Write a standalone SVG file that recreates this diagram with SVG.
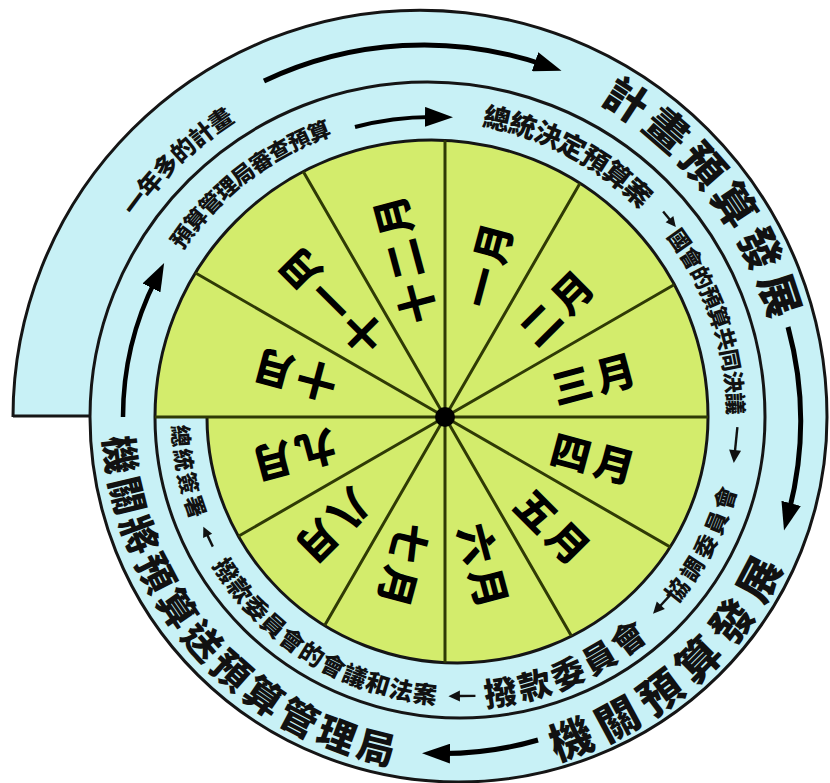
<svg xmlns="http://www.w3.org/2000/svg" width="830" height="783" viewBox="0 0 830 783">
<style>
.ln{fill:none;stroke:#151515;stroke-width:3}
.sec{fill:none;stroke:#2f3a05;stroke-width:3}
.arr{fill:none;stroke:#000;marker-end:url(#ah)}
.sh{fill:none;stroke:#111;stroke-width:2.4}
.hd{fill:#111}
.t{font-family:"Noto Sans CJK TC","Noto Sans CJK SC",sans-serif;font-weight:900;fill:#111;dominant-baseline:central;text-anchor:middle}
.m{font-family:"Noto Sans CJK TC","Noto Sans CJK SC",sans-serif;font-weight:900;fill:#000;font-size:40px;text-anchor:middle;dominant-baseline:central;letter-spacing:5px}
</style>
<defs>
<marker id="ah" markerUnits="userSpaceOnUse" viewBox="0 0 28 20" markerWidth="28" markerHeight="20" refX="10" refY="10" orient="auto"><path d="M0,0 L28,10 L0,20 Z" fill="#000"/></marker>
<g id="aL36"><path class="sh" d="M18,0 H-6"/><path class="hd" d="M-18,0 L-5,-6 L-5,6 Z"/></g>
<g id="aL27"><path class="sh" d="M13.5,0 H-3"/><path class="hd" d="M-13.5,0 L-2,-5.5 L-2,5.5 Z"/></g>
<g id="aL22"><path class="sh" d="M11,0 H-2"/><path class="hd" d="M-11,0 L-1,-5 L-1,5 Z"/></g>
<g id="aR20"><path class="sh" d="M-10,0 H2"/><path class="hd" d="M10,0 L0,-5 L0,5 Z"/></g>
<path id="T379" d="M-379,0 A379,379 0 0 1 379,0"/>
<path id="T362" d="M-362,0 A362,362 0 0 1 362,0"/>
<path id="T308" d="M-308,0 A308,308 0 0 1 308,0"/>
<path id="B338" d="M-338,0 A338,338 0 0 0 338,0"/>
<path id="B277" d="M-277,0 A277,277 0 0 0 277,0"/>
<clipPath id="gc"><path d="M155,417 A276.5,277 0 0 1 708,417 A250.5,246 0 0 1 207,417 Z"/></clipPath>
</defs>

<g id="spiral">
<path d="M13,417 A407,407 0 0 1 827,417 A368.5,365 0 0 1 90,417 Z" fill="#c8f1f6"/>
<path d="M155,417 A276.5,277 0 0 1 708,417 A250.5,246 0 0 1 207,417 Z" fill="#d3ec6c"/>
<path class="ln" d="M13,417 A407,407 0 0 1 827,417 A368.5,365 0 0 1 90,417 A337.5,335 0 0 1 765,417 A305,301 0 0 1 155,417 A276.5,277 0 0 1 708,417 A250.5,246 0 0 1 207,417"/>
<path class="ln" d="M13,416 H90"/>
</g>

<g id="sectors">
<g clip-path="url(#gc)">
<path class="sec" d="M445,417 L745,417 M445,417 L704.8,567 M445,417 L595,676.8 M445,417 L445,717 M445,417 L295,676.8 M445,417 L185.2,567 M445,417 L185.2,267 M445,417 L295,157.2 M445,417 L445,117 M445,417 L595,157.2 M445,417 L704.8,267"/>
</g>
<path class="sec" d="M155,417 H445"/>
<circle cx="445" cy="417" r="10" fill="#000"/>
</g>

<g id="connectors">
<path class="arr" stroke-width="5" d="M264,81 A372,372 0 0 1 544.5,65"/>
<path class="arr" stroke-width="5" d="M788,327 A360,360 0 0 1 788.6,513"/>
<path class="arr" stroke-width="5" d="M538,740 A336,336 0 0 1 440,753.5"/>
<path class="arr" stroke-width="4" d="M355,127 A300,300 0 0 1 435,117"/>
<path class="arr" stroke-width="4.5" d="M123,417 A306,306 0 0 1 156,279"/>
<g transform="translate(429.5,417) rotate(50.5)"><use href="#aR20" y="-311"/></g>
<g transform="translate(459,417)">
<g transform="rotate(-84.2)"><use href="#aL36" y="278"/></g>
<g transform="rotate(-47.4)"><use href="#aL27" y="276"/></g>
<g transform="rotate(-0.6)"><use href="#aL27" y="279"/></g>
<g transform="rotate(64.5)"><use href="#aL22" y="278"/></g>
</g>
</g>

<g id="months">
<text class="m" transform="translate(445,417) rotate(-75) translate(160,0)">一月</text>
<text class="m" transform="translate(445,417) rotate(-45) translate(158,0)">二月</text>
<text class="m" transform="translate(445,417) rotate(-15) translate(156,0)">三月</text>
<text class="m" transform="translate(445,417) rotate(15) translate(156,0)">四月</text>
<text class="m" transform="translate(445,417) rotate(45) translate(156,0)">五月</text>
<text class="m" transform="translate(445,417) rotate(75) translate(156,0)">六月</text>
<text class="m" transform="translate(445,417) rotate(105) translate(156,0)">七月</text>
<text class="m" transform="translate(445,417) rotate(135) translate(158,0)">八月</text>
<text class="m" transform="translate(445,417) rotate(165) translate(158,0)">九月</text>
<text class="m" transform="translate(445,417) rotate(195) translate(158,0)">十月</text>
<text class="m" transform="translate(445,417) rotate(225) translate(165,0)">十一月</text>
<text class="m" transform="translate(445,417) rotate(255) translate(165,0)">十二月</text>
</g>

<g id="outer-top" transform="translate(424,417)">
<g transform="rotate(-43.9)"><text class="t" font-size="24"><textPath href="#T362" startOffset="50%">一年多的計畫</textPath></text></g>
<g transform="rotate(52.4)"><text class="t" font-size="43" letter-spacing="8"><textPath href="#T379" startOffset="50%">計畫預算發展</textPath></text></g>
</g>

<g id="inner-top" transform="translate(429.5,417)">
<g transform="rotate(-37.5)"><text class="t" font-size="22"><textPath href="#T308" startOffset="50%">預算管理局審查預算</textPath></text></g>
<g transform="rotate(27.8)"><text class="t" font-size="27"><textPath href="#T308" startOffset="50%">總統決定預算案</textPath></text></g>
<g transform="rotate(71.1)"><text class="t" font-size="22"><textPath href="#T308" startOffset="50%">國會的預算共同決議</textPath></text></g>
</g>

<g id="inner-bottom" transform="translate(459,417)">
<g transform="rotate(-62.6)"><text class="t" font-size="23" letter-spacing="3"><textPath href="#B277" startOffset="50%">協調委員會</textPath></text></g>
<g transform="rotate(-23.2)"><text class="t" font-size="33" letter-spacing="2"><textPath href="#B277" startOffset="50%">撥款委員會</textPath></text></g>
<g transform="rotate(31.8)"><text class="t" font-size="24"><textPath href="#B277" startOffset="50%">撥款委員會的會議和法案</textPath></text></g>
<g transform="rotate(78.5)"><text class="t" font-size="22" letter-spacing="2"><textPath href="#B277" startOffset="50%">總統簽署</textPath></text></g>
</g>

<g id="outer-bottom" transform="translate(459,417)">
<g transform="rotate(-41)"><text class="t" font-size="43" letter-spacing="7"><textPath href="#B338" startOffset="50%">機關預算發展</textPath></text></g>
<g transform="rotate(48.6)"><text class="t" font-size="38" letter-spacing="3"><textPath href="#B338" startOffset="50%">機關將預算送預算管理局</textPath></text></g>
</g>
</svg>
